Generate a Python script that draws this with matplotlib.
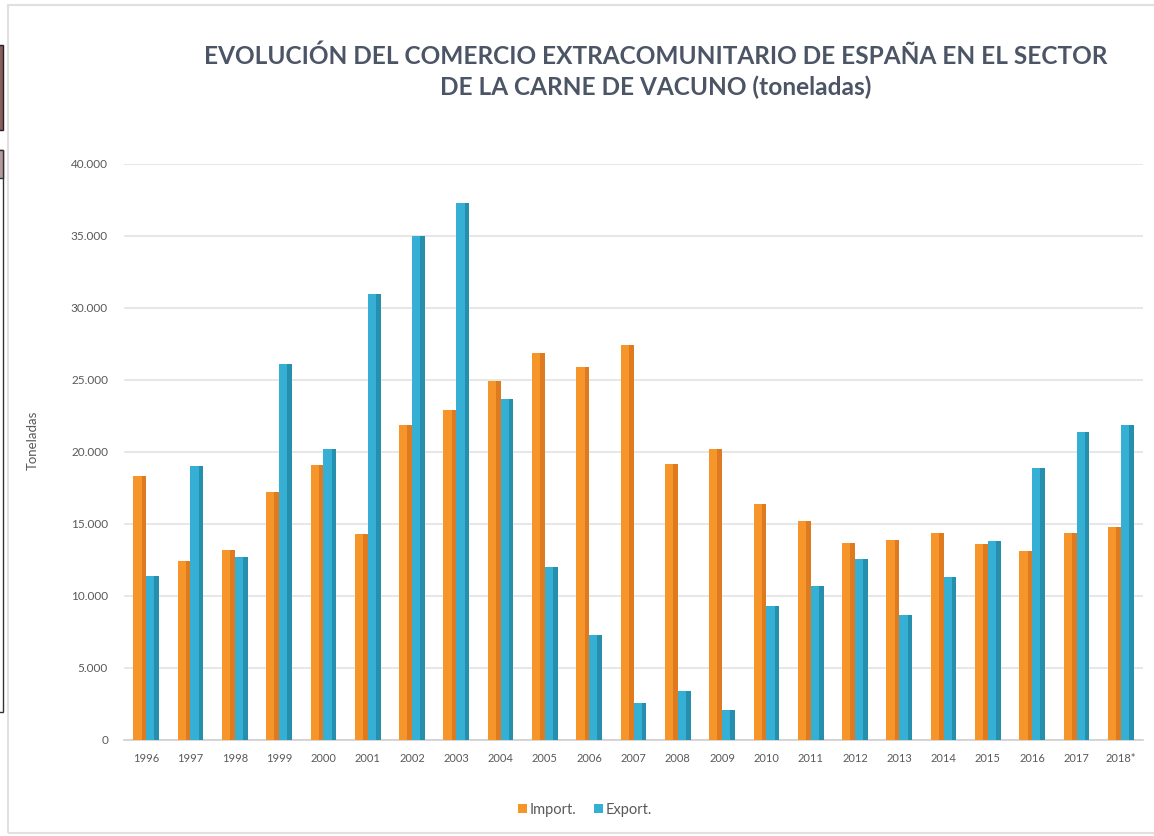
import matplotlib
matplotlib.use("Agg")
import matplotlib.pyplot as plt
from matplotlib.patches import Rectangle
from matplotlib.ticker import FuncFormatter
import numpy as np

years = ["1996", "1997", "1998", "1999", "2000", "2001", "2002", "2003", "2004",
         "2005", "2006", "2007", "2008", "2009", "2010", "2011", "2012", "2013",
         "2014", "2015", "2016", "2017", "2018*"]
imports = [18300, 12400, 13200, 17200, 19100, 14300, 21900, 22900, 24900,
           26900, 25900, 27400, 19200, 20200, 16400, 15200, 13700, 13900,
           14400, 13600, 13100, 14400, 14800]
exports = [11400, 19000, 12700, 26100, 20200, 31000, 35000, 37300, 23700,
           12000, 7300, 2600, 3400, 2100, 9300, 10700, 12600, 8700,
           11300, 13800, 18900, 21400, 21900]

title = "EVOLUCIÓN DEL COMERCIO EXTRACOMUNITARIO DE ESPAÑA EN EL SECTOR\nDE LA CARNE DE VACUNO (toneladas)"

ORANGE = "#F5952A"
ORANGE_DARK = "#DE7A1F"
CYAN = "#35AFD3"
CYAN_DARK = "#268FAE"
TEXT = "#595959"

plt.rcParams["font.family"] = ["Lato", "DejaVu Sans"]

fig = plt.figure(figsize=(11.54, 8.36), dpi=100)
ax = fig.add_axes([124 / 1154, 1 - 740 / 836, (1143 - 124) / 1154, (740 - 164) / 836])

x = np.arange(len(years))
w = 0.29
# flat bar plus a darker right-hand strip to hint at the cylinder shading
ax.bar(x - w / 2, imports, w, color=ORANGE, label="Import.", zorder=3)
ax.bar(x - w / 2 + 0.32 * w, imports, 0.36 * w, color=ORANGE_DARK, zorder=3)
ax.bar(x + w / 2, exports, w, color=CYAN, label="Export.", zorder=3)
ax.bar(x + w / 2 + 0.32 * w, exports, 0.36 * w, color=CYAN_DARK, zorder=3)

ax.set_xlim(-0.5, len(years) - 0.5)
ax.set_ylim(0, 40000)
ax.set_yticks(np.arange(0, 40001, 5000))
ax.yaxis.set_major_formatter(FuncFormatter(lambda v, p: f"{int(v):,}".replace(",", ".")))
ax.grid(axis="y", color="#E3E3E3", linewidth=1.2, zorder=0)
ax.set_xticks(x)
ax.set_xticklabels(years)
ax.tick_params(axis="both", length=0, colors=TEXT)
ax.tick_params(axis="x", pad=9, labelsize=8)
ax.tick_params(axis="y", pad=11.5, labelsize=8.5)
for s in ["top", "right", "left"]:
    ax.spines[s].set_visible(False)
ax.spines["bottom"].set_color("#D0D0D0")
ax.spines["bottom"].set_linewidth(1.2)

fig.text(33 / 1154, 1 - 440 / 836, "Toneladas", rotation=90, ha="center", va="center",
         fontsize=9.5, color=TEXT)
fig.text(656 / 1154, 1 - 44 / 836, title, ha="center", va="top", fontsize=17.6,
         fontweight="bold", color="#4C5566", linespacing=1.4)

leg = fig.legend(loc="center", bbox_to_anchor=(585 / 1154, 1 - 810 / 836), ncol=2,
                 frameon=False, fontsize=10.5, handlelength=0.6, handleheight=0.6,
                 handletextpad=0.2, columnspacing=1.2)
for t in leg.get_texts():
    t.set_color(TEXT)

# chart frame and the clipped boxes at the left edge of the capture
fig.patches.append(Rectangle((8 / 1154, 3 / 836), 1.2, 1 - 8 / 836, transform=fig.transFigure,
                             fill=False, edgecolor="#E0E0E0", linewidth=1.5))
fig.patches.append(Rectangle((-4 / 1154, 1 - 130 / 836), 7 / 1154, 85 / 836,
                             transform=fig.transFigure, facecolor="#8A5C5C",
                             edgecolor="#222222", linewidth=1))
fig.patches.append(Rectangle((-4 / 1154, 1 - 712 / 836), 7 / 1154, 562 / 836,
                             transform=fig.transFigure, facecolor="none",
                             edgecolor="#333333", linewidth=1))
fig.patches.append(Rectangle((-4 / 1154, 1 - 178 / 836), 7 / 1154, 28 / 836,
                             transform=fig.transFigure, facecolor="#B59C9C",
                             edgecolor="#333333", linewidth=1))

fig.savefig("out.png", dpi=100)
